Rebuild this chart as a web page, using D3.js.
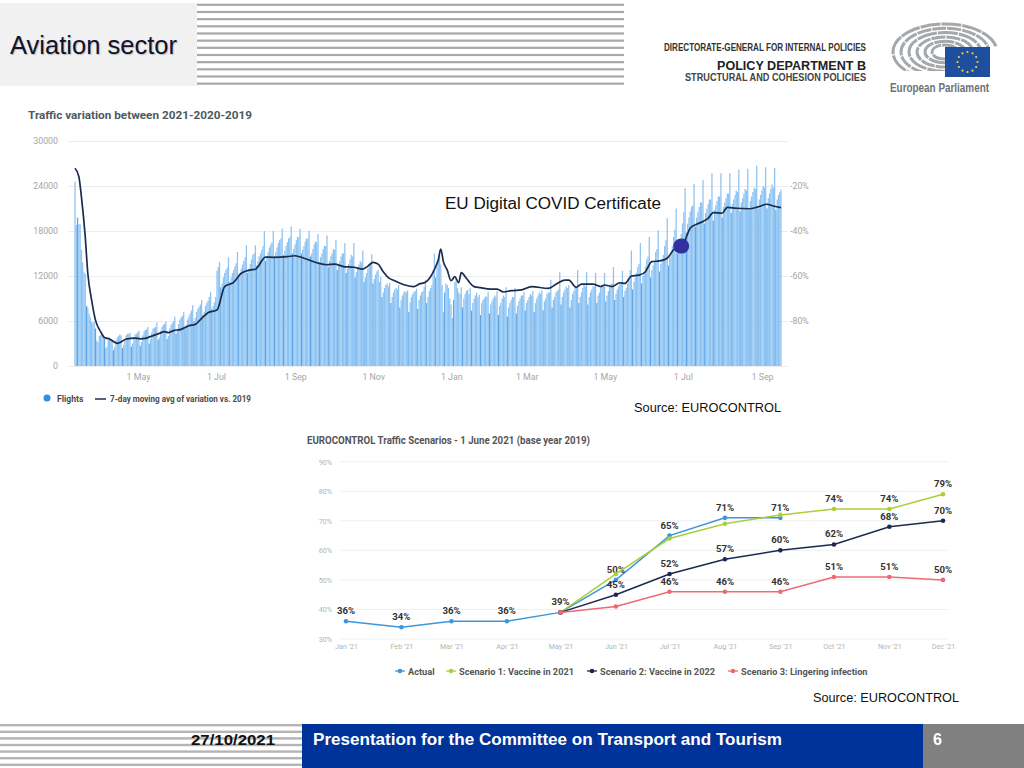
<!DOCTYPE html>
<html>
<head>
<meta charset="utf-8">
<script src="https://cdn.jsdelivr.net/npm/d3@7"></script>
<style>
  html, body { margin: 0; padding: 0; background: #fff; }
  svg { display: block; }
  text { font-family: "Liberation Sans", Arial, sans-serif; }
  .chart text { font-family: Roboto, sans-serif; }
</style>
</head>
<body>
<svg id="slide" width="1024" height="768"></svg>
<script>
// Daily flights, in hundreds, one row per week. First day is 12 Mar 2020, rows run Thu to Wed.
const flightsStart = new Date(2020, 2, 12);
const flightWeeks = [
  [246,188,198,189,189,155,138],[125,123,80,78,70,65,59],[57,59,50,34,32,40,41],[41,40,36,24,26,35,38],
  [36,33,21,25,34,38,40],[42,41,24,28,36,41,43],[43,44,26,30,38,42,43],[45,47,27,32,41,46,48],
  [49,52,30,36,45,50,51],[52,58,35,38,47,52,55],[56,59,36,40,50,55,57],[60,66,43,47,56,62,65],
  [67,72,50,55,62,66,70],[74,81,60,64,72,76,79],[82,88,68,72,80,84,87],[92,99,76,80,85,92,127],
  [132,139,105,110,118,124,128],[131,145,112,118,124,128,133],[137,152,118,124,130,135,140],[145,161,124,130,136,142,148],
  [150,161,134,140,146,150,155],[160,180,140,146,152,158,162],[165,180,146,152,158,164,168],[170,183,148,154,160,165,170],
  [172,186,150,156,162,168,172],[172,183,150,155,160,166,170],[170,180,146,150,156,162,166],[165,176,138,145,150,156,160],
  [160,174,132,140,146,150,156],[155,168,128,134,140,146,150],[150,164,124,130,136,142,148],[146,164,118,125,130,135,140],
  [138,154,112,118,124,130,135],[136,149,110,116,122,126,128],[112,119,92,98,104,108,110],[106,111,84,92,98,102,104],
  [102,108,78,88,94,98,100],[98,101,72,85,92,96,99],[100,103,76,88,94,98,100],[106,115,84,92,100,104,108],
  [128,150,118,132,140,155,135],[108,72,98,110,108,104,90],[82,64,88,112,117,104,98],[96,105,78,90,96,100,102],
  [96,104,74,84,90,94,98],[92,95,68,84,88,90,93],[92,99,70,82,86,90,94],[92,100,68,80,84,90,94],
  [92,105,66,78,84,88,92],[92,104,70,80,86,90,94],[94,99,74,84,88,92,96],[94,100,72,84,90,94,98],
  [96,101,74,86,90,96,98],[98,115,78,88,92,98,100],[102,125,82,92,98,102,106],[104,108,78,88,96,100,104],
  [106,128,84,92,98,104,108],[106,125,82,92,98,102,106],[106,124,84,94,98,104,108],[108,124,86,94,100,106,110],
  [110,132,88,96,102,106,110],[112,127,92,100,104,110,114],[128,154,102,112,118,124,132],[136,164,110,120,126,132,142],
  [146,172,118,128,134,140,152],[156,181,126,136,142,148,160],[168,197,134,146,152,160,172],[182,210,150,160,168,176,190],
  [205,237,178,190,198,206,212],[214,243,186,198,205,212,218],[218,248,190,204,210,216,222],[222,257,194,208,214,220,226],
  [226,257,198,212,218,224,230],[230,257,204,216,222,228,234],[232,262,206,218,224,230,236],[234,263,208,220,226,232,238],
  [236,267,210,222,228,234,240],[238,265,210,224,230,236,242],[238,264,208,222,228,232,235]
];

// 7-day moving average vs 2019: days since 12 Mar 2020 and the value read there
const avgDays = [0,3,5,8,10,13,16,20,23,27,33,35,40,47,51,55,60,66,70,73,77,83,89,94,99,104,111,117,124,130,137,141,149,155,166,172,179,189,197,203,210,218,225,229,233,237,241,245,250,258,265,269,274,278,282,284,286,288,291,294,297,300,302,306,312,317,325,330,335,341,349,357,370,377,383,386,392,396,405,411,414,420,426,430,435,441,446,451,457,463,468,474,477,481,486,491,495,499,506,510,517,527,534,541,546,552];
const avgValues = [-12.1,-15.8,-24.7,-42.5,-58.8,-70.7,-79.6,-84.7,-87.3,-88,-89.9,-89.6,-88,-87.6,-87.9,-87.7,-86.7,-85.5,-84.7,-85.2,-84.3,-83.7,-82.1,-81.5,-78.8,-76.3,-75.1,-64.7,-62.8,-58.8,-57.3,-57,-51.6,-51.7,-51.4,-51,-52.1,-54.1,-55,-54.7,-55.8,-56.1,-56.9,-55.6,-53.9,-54.7,-58.1,-60.7,-62.1,-64,-64.7,-63.6,-62.8,-60.3,-55.9,-52.9,-48,-53.6,-57.3,-62.1,-60.3,-63,-58.5,-61,-64.7,-65.2,-65.8,-65.8,-67.1,-66.5,-66.2,-64.7,-65.5,-63.3,-61.8,-61.8,-65,-63.6,-63.6,-64.7,-64,-64.7,-63,-63.3,-60,-59.6,-58.1,-53.6,-53.3,-52.1,-48.4,-46.7,-44,-38.8,-37,-35.8,-34.4,-31.8,-32.1,-29.5,-29.9,-30.1,-29.3,-28.1,-28.9,-29.6];

const certificateDay = 474;
const certificateValue = -46.7;

const flightTicks = [0, 6000, 12000, 18000, 24000, 30000];
const variationTicks = [-20, -40, -60, -80];
const flightDateTicks = [[2020,4],[2020,6],[2020,8],[2020,10],[2021,0],[2021,2],[2021,4],[2021,6],[2021,8]];

// Scenario chart
const months = ["Jan","Feb","Mar","Apr","May","Jun","Jul","Aug","Sep","Oct","Nov","Dec"];
const actualValues = [36,34,36,36,39,50,65,71,71,null,null,null];
const scenario1Values = [null,null,null,null,39,52,64,69,72,74,74,79];
const scenario2Values = [null,null,null,null,39,45,52,57,60,62,68,70];
const scenario3Values = [null,null,null,null,39,41,46,46,46,51,51,50];
const actualLabels = [0,1,2,3,4,5,6,7,8];
const scenario1Labels = [9,10,11];
const scenario2Labels = [5,6,7,8,9,10,11];
const scenario3Labels = [6,7,8,9,10,11];
const percentTicks = [30,40,50,60,70,80,90];

const svg = d3.select("#slide");

// ---------- header ----------
svg.append("rect").attr("x", 0).attr("y", 3).attr("width", 197).attr("height", 83).attr("fill", "#f1f1f1");
svg.append("g").selectAll("rect").data(d3.range(12)).join("rect")
  .attr("x", 197).attr("width", 427).attr("height", 2.2)
  .attr("y", d => 3.7 + d * 7.17)
  .attr("fill", "#a8a8a8");
svg.append("text").attr("x", 10).attr("y", 54).attr("font-size", 25).attr("fill", "#12122e")
  .attr("textLength", 167).attr("lengthAdjust", "spacingAndGlyphs")
  .style("text-shadow", "1px 1px 1px #bbb").text("Aviation sector");

// policy department text block
const logoLines = [
  { t: "DIRECTORATE-GENERAL FOR INTERNAL POLICIES", y: 50.5, s: 10, w: 202, c: "#333" },
  { t: "POLICY DEPARTMENT B", y: 69.5, s: 13.5, w: 149, c: "#222" },
  { t: "STRUCTURAL AND COHESION POLICIES", y: 81, s: 10, w: 181, c: "#444" }
];
svg.append("g").selectAll("text").data(logoLines).join("text")
  .attr("x", 866).attr("y", d => d.y).attr("text-anchor", "end")
  .attr("font-size", d => d.s).attr("font-weight", "bold").attr("fill", d => d.c)
  .attr("textLength", d => d.w).attr("lengthAdjust", "spacingAndGlyphs")
  .text(d => d.t);

// European Parliament emblem
const hemi = svg.append("g");
[52, 44, 36, 28, 20, 13].forEach((r, i) => {
  hemi.append("ellipse").attr("cx", 945).attr("cy", 52).attr("rx", r).attr("ry", r * 0.54)
    .attr("fill", "none").attr("stroke", "#a4a8ab").attr("stroke-width", 3)
    .attr("stroke-dasharray", i % 2 ? "14 1" : "20 1");
});
hemi.append("rect").attr("x", 885).attr("y", 71).attr("width", 115).attr("height", 14).attr("fill", "#fff");
hemi.append("rect").attr("x", 945).attr("y", 47).attr("width", 55).attr("height", 30).attr("fill", "#fff");
hemi.append("rect").attr("x", 945).attr("y", 47).attr("width", 45).attr("height", 30).attr("fill", "#1d4f9e");
hemi.selectAll("circle").data(d3.range(12)).join("circle")
  .attr("cx", d => 967.5 + 10 * Math.cos(d * Math.PI / 6))
  .attr("cy", d => 62 + 10 * Math.sin(d * Math.PI / 6))
  .attr("r", 1.1).attr("fill", "#f5d33a");
svg.append("text").attr("x", 890).attr("y", 92).attr("font-size", 12.5).attr("font-weight", "bold")
  .attr("fill", "#6d7276").attr("textLength", 99).attr("lengthAdjust", "spacingAndGlyphs").text("European Parliament");

// ---------- flights chart ----------
const chart1 = svg.append("g").attr("class", "chart");
chart1.append("text").attr("x", 28).attr("y", 119).attr("font-size", 11.6).attr("font-weight", "bold")
  .attr("fill", "#4b5a60").attr("textLength", 224).attr("lengthAdjust", "spacingAndGlyphs")
  .text("Traffic variation between 2021-2020-2019");

const flights = flightWeeks.flat().map((v, i) => ({ date: d3.timeDay.offset(flightsStart, i), value: v * 100 }));

const xTime = d3.scaleTime()
  .domain([flightsStart, d3.timeDay.offset(flightsStart, 552)])
  .range([75, 781]);
const yFlights = d3.scaleLinear().domain([0, 30000]).range([366, 141]);
const yVariation = d3.scaleLinear().domain([-100, 0]).range([366, 141]);

const leftAxis = d3.axisLeft(yFlights).tickValues(flightTicks).tickSize(-720).tickPadding(10).tickFormat(d3.format("d"));
const g1 = chart1.append("g").attr("transform", "translate(68,0)").call(leftAxis);
g1.select(".domain").remove();
g1.selectAll("line").attr("stroke", "#ececf0").attr("x1", 0).attr("x2", 720);
g1.selectAll("text").attr("fill", "#a6a6a6").attr("font-size", 8.8).attr("x", -10);

// Saturdays come out darker in the source picture
chart1.append("g").selectAll("rect").data(flights).join("rect")
  .attr("x", d => xTime(d.date) - 0.6)
  .attr("width", 1.25)
  .attr("y", d => yFlights(d.value))
  .attr("height", d => 366 - yFlights(d.value))
  .attr("fill", d => d.date.getDay() === 6 ? "#5ba6e8" : "#8cc3f2");

const rightAxis = d3.axisRight(yVariation).tickValues(variationTicks).tickSize(0).tickPadding(2).tickFormat(d => d + "%");
const g2 = chart1.append("g").attr("transform", "translate(788,0)").call(rightAxis);
g2.select(".domain").remove();
g2.selectAll("text").attr("fill", "#a6a6a6").attr("font-size", 8.8);

const bottomAxis = d3.axisBottom(xTime)
  .tickValues(flightDateTicks.map(d => new Date(d[0], d[1], 1)))
  .tickSize(0).tickPadding(8).tickFormat(d3.timeFormat("%-d %b"));
const g3 = chart1.append("g").attr("transform", "translate(-1,366)").call(bottomAxis);
g3.select(".domain").remove();
g3.selectAll("text").attr("fill", "#a6a6a6").attr("font-size", 8.8);

const avgLine = d3.line()
  .x((d, i) => xTime(d3.timeDay.offset(flightsStart, avgDays[i])))
  .y(d => yVariation(d))
  .curve(d3.curveMonotoneX);
chart1.append("path").attr("d", avgLine(avgValues))
  .attr("fill", "none").attr("stroke", "#1b2c4d").attr("stroke-width", 1.7);

chart1.append("ellipse")
  .attr("cx", xTime(d3.timeDay.offset(flightsStart, certificateDay)))
  .attr("cy", yVariation(certificateValue))
  .attr("rx", 8).attr("ry", 7.5).attr("fill", "#32309c");

svg.append("text").attr("x", 445).attr("y", 209).attr("font-size", 16).attr("fill", "#111")
  .attr("textLength", 216).attr("lengthAdjust", "spacingAndGlyphs")
  .text("EU Digital COVID Certificate");

// legend
chart1.append("circle").attr("cx", 47).attr("cy", 398).attr("r", 3.5).attr("fill", "#2f8fe6");
chart1.append("text").attr("x", 57).attr("y", 402).attr("font-size", 8.6).attr("font-weight", "bold").attr("fill", "#4c4c4c").text("Flights");
chart1.append("line").attr("x1", 95).attr("x2", 106).attr("y1", 399).attr("y2", 399).attr("stroke", "#1b2c4d").attr("stroke-width", 1.5);
chart1.append("text").attr("x", 110).attr("y", 402).attr("font-size", 8.6).attr("font-weight", "bold").attr("fill", "#4c4c4c")
  .attr("textLength", 141).attr("lengthAdjust", "spacingAndGlyphs")
  .text("7-day moving avg of variation vs. 2019");

svg.append("text").attr("x", 634).attr("y", 412).attr("font-size", 12.5).attr("fill", "#111")
  .attr("textLength", 147).attr("lengthAdjust", "spacingAndGlyphs").text("Source: EUROCONTROL");

// ---------- scenarios chart ----------
const chart2 = svg.append("g").attr("class", "chart");
chart2.append("text").attr("x", 307).attr("y", 444).attr("font-size", 10.2).attr("font-weight", "bold")
  .attr("fill", "#555").attr("textLength", 283).attr("lengthAdjust", "spacingAndGlyphs")
  .text("EUROCONTROL Traffic Scenarios - 1 June 2021 (base year 2019)");

const monthDates = months.map((m, i) => new Date(2021, i, 1));
const xMonth = d3.scaleTime().domain([monthDates[0], monthDates[11]]).range([346, 943]);
const yPercent = d3.scaleLinear().domain([30, 90]).range([639, 461.7]);

const g4 = chart2.append("g").attr("transform", "translate(340,0)")
  .call(d3.axisLeft(yPercent).tickValues(percentTicks).tickSize(0).tickPadding(8).tickFormat(d => d + "%"));
g4.select(".domain").remove();
g4.selectAll("text").attr("fill", "#b4b4b4").attr("font-size", 7.2);
chart2.append("g").selectAll("line").data(percentTicks).join("line")
  .attr("x1", 340).attr("x2", 948)
  .attr("y1", d => yPercent(d)).attr("y2", d => yPercent(d))
  .attr("stroke", "#f0f0f2");

const g5 = chart2.append("g").attr("transform", "translate(0,639)")
  .call(d3.axisBottom(xMonth).tickValues(monthDates).tickSize(0).tickPadding(5)
    .tickFormat(d => months[d.getMonth()] + " '21"));
g5.select(".domain").remove();
g5.selectAll("text").attr("fill", "#b4b4b4").attr("font-size", 7.2);

const series = [
  { name: "Actual", values: actualValues, labels: actualLabels, color: "#3b96dc", legendX: 395 },
  { name: "Scenario 1: Vaccine in 2021", values: scenario1Values, labels: scenario1Labels, color: "#abcf38", legendX: 446 },
  { name: "Scenario 2: Vaccine in 2022", values: scenario2Values, labels: scenario2Labels, color: "#1a2a50", legendX: 587 },
  { name: "Scenario 3: Lingering infection", values: scenario3Values, labels: scenario3Labels, color: "#ee6a72", legendX: 728 }
];

const monthLine = d3.line()
  .defined(d => d !== null)
  .x((d, i) => xMonth(monthDates[i]))
  .y(d => yPercent(d));

series.forEach(s => {
  chart2.append("path").attr("d", monthLine(s.values))
    .attr("fill", "none").attr("stroke", s.color).attr("stroke-width", 1.5);
  chart2.append("g").selectAll("circle")
    .data(s.values.map((v, i) => ({ v, i })).filter(d => d.v !== null))
    .join("circle")
    .attr("cx", d => xMonth(monthDates[d.i]))
    .attr("cy", d => yPercent(d.v))
    .attr("r", 2.3).attr("fill", s.color);
  chart2.append("g").selectAll("text").data(s.labels).join("text")
    .attr("x", i => xMonth(monthDates[i]))
    .attr("y", i => yPercent(s.values[i]) - 7)
    .attr("text-anchor", "middle").attr("font-size", 9.6).attr("font-weight", "bold").attr("fill", "#333")
    .text(i => s.values[i] + "%");

  // legend entry
  chart2.append("line").attr("x1", s.legendX).attr("x2", s.legendX + 10).attr("y1", 671).attr("y2", 671)
    .attr("stroke", s.color).attr("stroke-width", 1.3);
  chart2.append("circle").attr("cx", s.legendX + 5).attr("cy", 671).attr("r", 2.3).attr("fill", s.color);
  chart2.append("text").attr("x", s.legendX + 13).attr("y", 674.5).attr("font-size", 9.2).attr("font-weight", "bold")
    .attr("fill", "#555").text(s.name);
});

svg.append("text").attr("x", 813).attr("y", 702).attr("font-size", 12.5).attr("fill", "#111")
  .attr("textLength", 146).attr("lengthAdjust", "spacingAndGlyphs").text("Source: EUROCONTROL");

// ---------- footer ----------
svg.append("g").selectAll("rect").data(d3.range(7)).join("rect")
  .attr("x", 0).attr("width", 302).attr("height", 2.4)
  .attr("y", d => 724 + d * 6.6)
  .attr("fill", "#b4b4b4");
svg.append("rect").attr("x", 302).attr("y", 724).attr("width", 621).attr("height", 44).attr("fill", "#003399");
svg.append("rect").attr("x", 923).attr("y", 724).attr("width", 101).attr("height", 44).attr("fill", "#808080");
svg.append("text").attr("x", 191).attr("y", 745).attr("font-size", 15).attr("font-weight", "bold")
  .attr("fill", "#111").attr("textLength", 84).attr("lengthAdjust", "spacingAndGlyphs").text("27/10/2021");
svg.append("text").attr("x", 313).attr("y", 745).attr("font-size", 16.5).attr("font-weight", "bold")
  .attr("fill", "#fff").attr("textLength", 469).attr("lengthAdjust", "spacingAndGlyphs")
  .text("Presentation for the Committee on Transport and Tourism");
svg.append("text").attr("x", 933).attr("y", 745).attr("font-size", 16).attr("font-weight", "bold")
  .attr("fill", "#fff").text("6");
</script>
</body>
</html>
